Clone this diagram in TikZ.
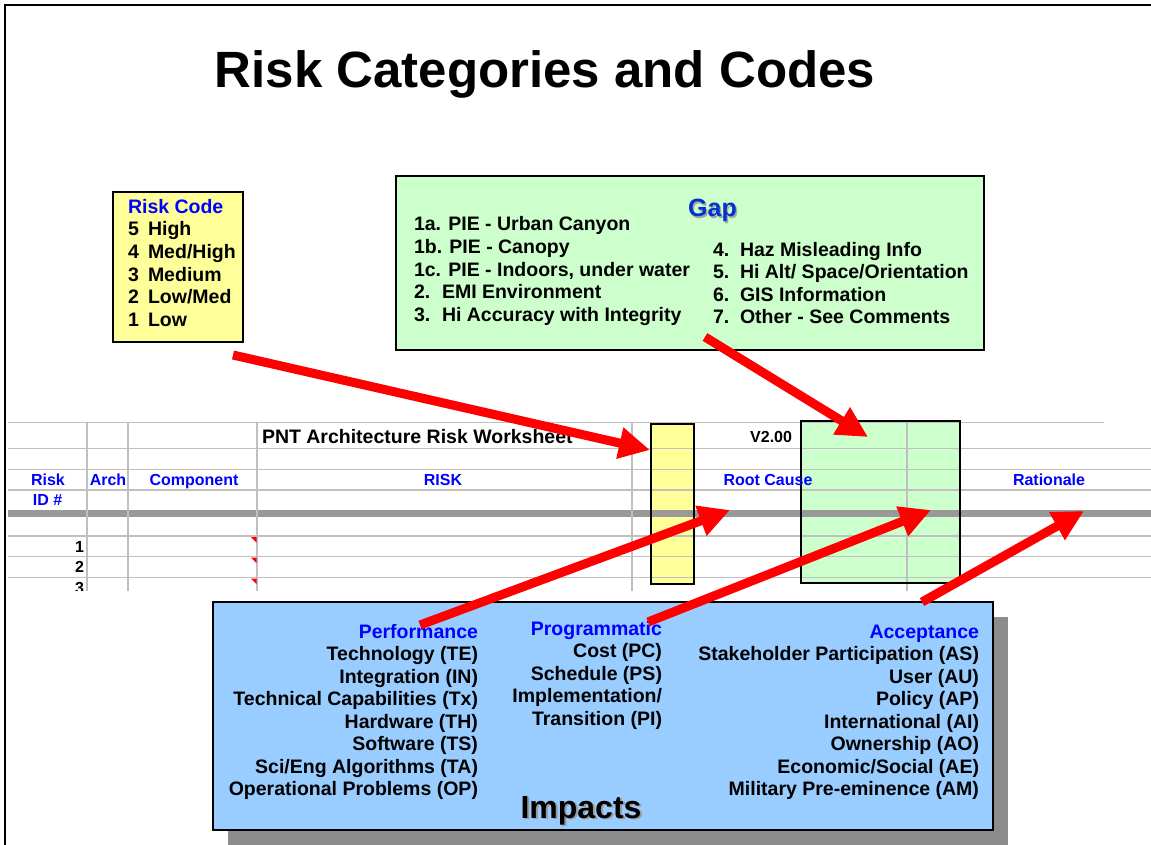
\documentclass[tikz,border=0pt]{standalone}
\usepackage{fontspec}
\setmainfont{Liberation Sans}
\usetikzlibrary{arrows.meta}
\definecolor{codeyellow}{HTML}{FFFF99}
\definecolor{gapgreen}{HTML}{CCFFCC}
\definecolor{impblue}{HTML}{99CCFF}
\definecolor{hdrblue}{HTML}{0000FF}
\definecolor{gapblue}{HTML}{0033CC}
\definecolor{gridgray}{HTML}{C0C0C0}
\definecolor{bandgray}{HTML}{999999}
\definecolor{shadowgray}{HTML}{8C8C8C}
\begin{document}
\begin{tikzpicture}[x=1pt,y=-1pt,
  body/.style={font=\bfseries\fontsize{19.5}{22.5}\selectfont, inner sep=0pt, outer sep=0pt},
  bodyhdr/.style={body, text=hdrblue},
  ws/.style={font=\bfseries\fontsize{16}{18}\selectfont, inner sep=0pt, outer sep=0pt},
  wshdr/.style={ws, text=hdrblue},
  gridline/.style={draw=gridgray, line width=1.3pt},
  boxframe/.style={draw=black, line width=1.5pt, inner sep=0pt, outer sep=0pt, anchor=north west},
  redarrow/.style={draw=red, line width=9pt, -{Triangle[length=31pt,width=30pt]}},
  note/.style={fill=red},
]
\useasboundingbox (0,0) rectangle (1151,845);
\fill[white] (0,0) rectangle (1151,845);

% slide frame
\draw[line width=2.5pt] (5,845) -- (5,5) -- (1151,5);

% title
\node[font=\bfseries\fontsize{51}{60}\selectfont, inner sep=0pt, anchor=base] (title) at (545,88) {Risk Categories and Codes};

% worksheet
\begin{scope}
  \clip (0,415) rectangle (1151,590);
  \fill[codeyellow] (651,424) rectangle (694,584);
  \fill[gapgreen] (801,421) rectangle (960,583);
  \draw[gridline] (8,422.7) -- (1104,422.7);
  \foreach \y in {448.3,469.3,490,536,556.7,577.7}
    \draw[gridline] (8,\y) -- (1151,\y);
  \draw[draw=bandgray, line width=6.5pt] (8,513.5) -- (1151,513.5);
  \foreach \x in {87,128,257,632,907}
    \draw[gridline] (\x,422.7) -- (\x,595);
  \draw[line width=1.5pt] (651,424) rectangle (694,584);
  \draw[line width=1.5pt] (801,421) rectangle (960,583);
  \node[ws, font=\bfseries\fontsize{19.5}{22}\selectfont, anchor=base west] (wstitle) at (262,443.5) {PNT Architecture Risk Worksheet};
  \node[ws, anchor=base east] (version) at (792,442) {V2.00};
  \node[wshdr, anchor=base] (hRisk) at (48,485) {Risk};
  \node[wshdr, anchor=base] (hID) at (47.5,505) {ID \#};
  \node[wshdr, anchor=base] (hArch) at (108,485) {Arch};
  \node[wshdr, anchor=base] (hComp) at (194,485) {Component};
  \node[wshdr, anchor=base] (hRISK) at (443,485) {RISK};
  \node[wshdr, anchor=base] (hRoot) at (768,485) {Root Cause};
  \node[wshdr, anchor=base] (hRat) at (1049,485) {Rationale};
  \node[ws, anchor=base east] (r1) at (84,552) {1};
  \node[ws, anchor=base east] (r2) at (84,572.5) {2};
  \node[ws, anchor=base east] (r3) at (84,593) {3};
  \foreach \y in {537,557.7,578.7}
    \fill[note] (251,\y) -- (256.5,\y) -- (256.5,\y+5.5) -- cycle;
\end{scope}

% risk code box
\node[boxframe, fill=codeyellow, minimum width=130pt, minimum height=150pt] (riskbox) at (113,192) {};
\node[bodyhdr, anchor=base west] (rctitle) at (128,214) {Risk Code};
\node[body, anchor=base west] (rc5n) at (128,236) {5};
\node[body, anchor=base west] (rc5) at (148,236) {High};
\node[body, anchor=base west] (rc4n) at (128,258.5) {4};
\node[body, anchor=base west] (rc4) at (148,258.5) {Med/High};
\node[body, anchor=base west] (rc3n) at (128,281) {3};
\node[body, anchor=base west] (rc3) at (148,281) {Medium};
\node[body, anchor=base west] (rc2n) at (128,303.5) {2};
\node[body, anchor=base west] (rc2) at (148,303.5) {Low/Med};
\node[body, anchor=base west] (rc1n) at (128,326) {1};
\node[body, anchor=base west] (rc1) at (148,326) {Low};

% gap box
\node[boxframe, fill=gapgreen, minimum width=588pt, minimum height=174pt] (gapbox) at (396,176) {};
\node[font=\bfseries\fontsize{25}{28}\selectfont, inner sep=0pt, anchor=base, text=gray!70] (gapshadow) at (714,218.5) {Gap};
\node[font=\bfseries\fontsize{25}{28}\selectfont, inner sep=0pt, anchor=base, text=gapblue] (gaptitle) at (712.5,217) {Gap};
\node[body, anchor=base west] (g1a) at (414,231) {1a. PIE - Urban Canyon};
\node[body, anchor=base west] (g1b) at (414,253.5) {1b. PIE - Canopy};
\node[body, anchor=base west] (g1c) at (414,276) {1c. PIE - Indoors, under water};
\node[body, anchor=base west] (g2n) at (414,298.5) {2.};
\node[body, anchor=base west] (g2) at (442,298.5) {EMI Environment};
\node[body, anchor=base west] (g3n) at (414,321) {3.};
\node[body, anchor=base west] (g3) at (442,321) {Hi Accuracy with Integrity};
\node[body, anchor=base west] (g4n) at (713,256) {4.};
\node[body, anchor=base west] (g4) at (740,256) {Haz Misleading Info};
\node[body, anchor=base west] (g5n) at (713,278.5) {5.};
\node[body, anchor=base west] (g5) at (740,278.5) {Hi Alt/ Space/Orientation};
\node[body, anchor=base west] (g6n) at (713,301) {6.};
\node[body, anchor=base west] (g6) at (740,301) {GIS Information};
\node[body, anchor=base west] (g7n) at (713,323.5) {7.};
\node[body, anchor=base west] (g7) at (740,323.5) {Other - See Comments};

% impacts box
\fill[shadowgray] (228,617) rectangle (1008,850);
\node[boxframe, line width=2pt, fill=impblue, minimum width=780pt, minimum height=228pt] (impbox) at (213,602) {};
\node[bodyhdr, anchor=base east] (perf) at (478,638) {Performance};
\node[body, anchor=base east] (p1) at (478,660.5) {Technology (TE)};
\node[body, anchor=base east] (p2) at (478,683) {Integration (IN)};
\node[body, anchor=base east] (p3) at (478,705.5) {Technical Capabilities (Tx)};
\node[body, anchor=base east] (p4) at (478,728) {Hardware (TH)};
\node[body, anchor=base east] (p5) at (478,750.5) {Software (TS)};
\node[body, anchor=base east] (p6) at (478,773) {Sci/Eng Algorithms (TA)};
\node[body, anchor=base east] (p7) at (478,795.5) {Operational Problems (OP)};
\node[bodyhdr, anchor=base east] (prog) at (662,635) {Programmatic};
\node[body, anchor=base east] (q1) at (662,657.5) {Cost (PC)};
\node[body, anchor=base east] (q2) at (662,680) {Schedule (PS)};
\node[body, anchor=base east] (q3) at (662,702.5) {Implementation/};
\node[body, anchor=base east] (q4) at (662,725) {Transition (PI)};
\node[bodyhdr, anchor=base east] (acc) at (979,638) {Acceptance};
\node[body, anchor=base east] (c1) at (979,660.5) {Stakeholder Participation (AS)};
\node[body, anchor=base east] (c2) at (979,683) {User (AU)};
\node[body, anchor=base east] (c3) at (979,705.5) {Policy (AP)};
\node[body, anchor=base east] (c4) at (979,728) {International (AI)};
\node[body, anchor=base east] (c5) at (979,750.5) {Ownership (AO)};
\node[body, anchor=base east] (c6) at (979,773) {Economic/Social (AE)};
\node[body, anchor=base east] (c7) at (979,795.5) {Military Pre-eminence (AM)};
\node[font=\bfseries\fontsize{32}{36}\selectfont, inner sep=0pt, anchor=base, text=gray!80] (impshadow) at (583,819.5) {Impacts};
\node[font=\bfseries\fontsize{32}{36}\selectfont, inner sep=0pt, anchor=base] (imptitle) at (581,818) {Impacts};

% arrows
\coordinate (a1s) at (233,355);  \coordinate (a1e) at (650,450);
\coordinate (a2s) at (705,337);  \coordinate (a2e) at (868,437);
\coordinate (a3s) at (420,625);  \coordinate (a3e) at (730,510);
\coordinate (a4s) at (648,622);  \coordinate (a4e) at (931,510);
\coordinate (a5s) at (922,602);  \coordinate (a5e) at (1084,511);
\draw[redarrow] (a1s) -- (a1e);
\draw[redarrow] (a2s) -- (a2e);
\draw[redarrow] (a3s) -- (a3e);
\draw[redarrow] (a4s) -- (a4e);
\draw[redarrow] (a5s) -- (a5e);
\end{tikzpicture}
\end{document}
